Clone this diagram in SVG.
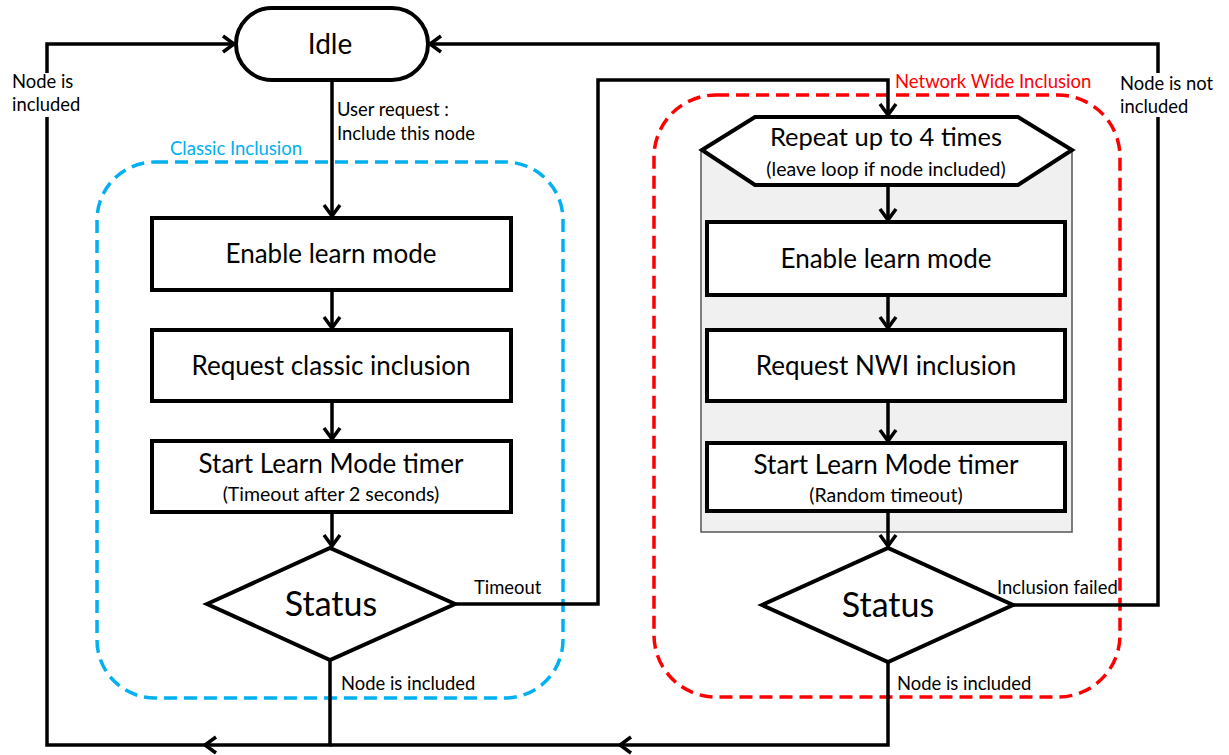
<svg xmlns="http://www.w3.org/2000/svg" width="1229" height="755" viewBox="0 0 1229 755">
<style>
text{font-family:Lato,"Liberation Sans",sans-serif;fill:#000}
.box{fill:#fff;stroke:#000;stroke-width:4}
.big{font-size:26px;text-anchor:middle}
.sub{font-size:19.5px;text-anchor:middle}
.stat{font-size:34px;text-anchor:middle}
.lbl{font-size:18.4px}
.con{fill:none;stroke:#000;stroke-width:3.5}
.grp{fill:none;stroke-width:3.5;stroke-dasharray:13 7}
</style>
<defs>
<marker id="arr" markerUnits="userSpaceOnUse" markerWidth="24" markerHeight="24" viewBox="-14 -12 16 24" refX="0" refY="0" orient="auto">
<path d="M-11,-8 L0,0 L-11,8" fill="none" stroke="#000" stroke-width="3.5"/>
</marker>
</defs>
<rect width="1229" height="755" fill="#fff"/>
<g id="classic-group">
<rect class="grp" x="97" y="162" width="466" height="536" rx="58" stroke="#00b0f0"/>
<text x="170" y="155" style="font-size:18.5px;fill:#00b0f0">Classic Inclusion</text>
</g>
<g id="nwi-group">
<rect class="grp" x="654" y="95" width="466" height="602" rx="62" stroke="#ff0000"/>
<text x="895" y="88" style="font-size:18.5px;fill:#ff0000">Network  Wide Inclusion</text>
<rect x="701" y="150" width="371" height="382" fill="#f0f0f0" stroke="#555" stroke-width="1.5"/>
</g>
<g id="connectors">
<path class="con" d="M332,80 V216" marker-end="url(#arr)"/>
<path class="con" d="M332,290 V328" marker-end="url(#arr)"/>
<path class="con" d="M332,401 V439" marker-end="url(#arr)"/>
<path class="con" d="M332,512 V546" marker-end="url(#arr)"/>
<path class="con" d="M888,185 V220" marker-end="url(#arr)"/>
<path class="con" d="M888,295 V328" marker-end="url(#arr)"/>
<path class="con" d="M888,401 V441" marker-end="url(#arr)"/>
<path class="con" d="M888,511 V546" marker-end="url(#arr)"/>
<path class="con" d="M455,604 H598 V80 H888 V115" marker-end="url(#arr)"/>
<path class="con" d="M1013,605 H1158 V117"/>
<path class="con" d="M1158,73 V44 H430" marker-end="url(#arr)"/>
<path class="con" d="M888,662 V745 H620" marker-end="url(#arr)"/>
<path class="con" d="M620,745 H330"/>
<path class="con" d="M330,660 V745 H205" marker-end="url(#arr)"/>
<path class="con" d="M205,745 H47 V117"/>
<path class="con" d="M47,73 V44 H234" marker-end="url(#arr)"/>
<text class="lbl" x="337" y="116">User request :</text>
<text class="lbl" x="337" y="140">Include this node</text>
<text class="lbl" x="12" y="88">Node is</text>
<text class="lbl" x="12" y="111">included</text>
<text class="lbl" x="1120" y="90">Node is not</text>
<text class="lbl" x="1120" y="113">included</text>
<text class="lbl" x="474" y="594">Timeout</text>
<text class="lbl" x="997" y="594">Inclusion failed</text>
<text class="lbl" x="341" y="690">Node is included</text>
<text class="lbl" x="897" y="690">Node is included</text>
</g>
<g id="idle">
<rect class="box" x="236" y="8" width="192" height="72" rx="36"/>
<text class="big" x="330" y="54" style="font-size:28px">Idle</text>
</g>
<g id="c-enable">
<rect class="box" x="152" y="218" width="359" height="72"/>
<text class="big" x="331" y="263">Enable learn mode</text>
</g>
<g id="c-request">
<rect class="box" x="152" y="330" width="359" height="71"/>
<text class="big" x="331" y="375">Request classic inclusion</text>
</g>
<g id="c-timer">
<rect class="box" x="152" y="441" width="359" height="71"/>
<text class="big" x="331" y="473">Start Learn Mode timer</text>
<text class="sub" x="331" y="501">(Timeout after 2 seconds)</text>
</g>
<g id="c-status">
<polygon class="box" points="207,604 330,548 455,604 330,660"/>
<text class="stat" x="331" y="616">Status</text>
</g>
<g id="n-repeat">
<polygon class="box" points="702,150 755,117 1018,117 1072,150 1018,185 755,185"/>
<text class="big" x="886" y="146" style="font-size:25.5px">Repeat up to 4 times</text>
<text class="sub" x="886" y="176">(leave loop  if node  included)</text>
</g>
<g id="n-enable">
<rect class="box" x="707" y="222" width="358" height="73"/>
<text class="big" x="886" y="268">Enable learn mode</text>
</g>
<g id="n-request">
<rect class="box" x="707" y="330" width="358" height="71"/>
<text class="big" x="886" y="375">Request NWI inclusion</text>
</g>
<g id="n-timer">
<rect class="box" x="707" y="443" width="358" height="68"/>
<text class="big" x="886" y="474">Start Learn Mode timer</text>
<text class="sub" x="886" y="502">(Random timeout)</text>
</g>
<g id="n-status">
<polygon class="box" points="762,605 888,548 1013,605 888,662"/>
<text class="stat" x="888" y="617">Status</text>
</g>
</svg>
